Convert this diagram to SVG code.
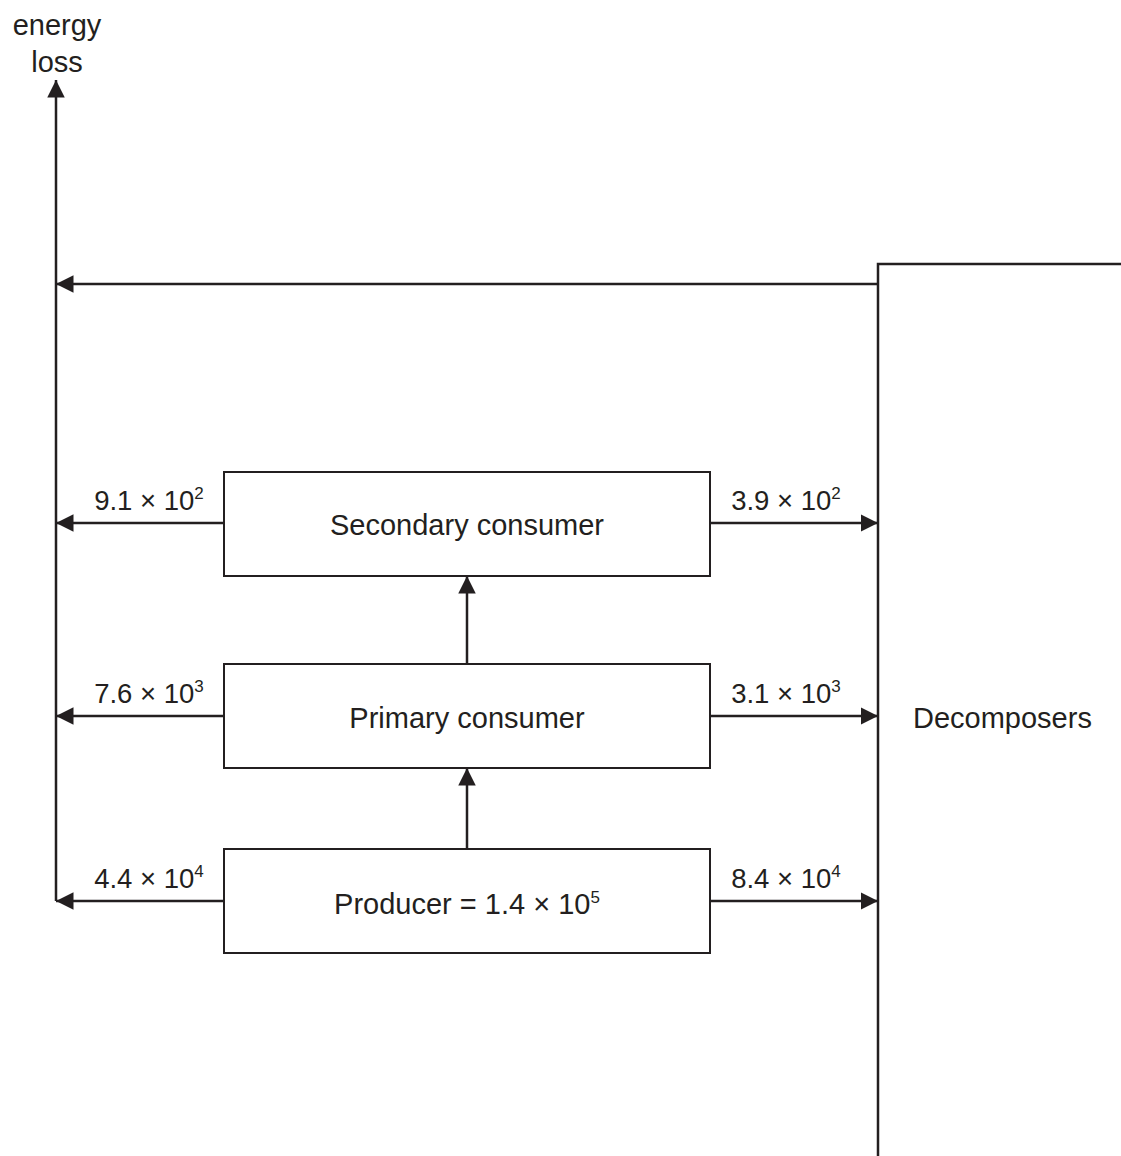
<svg xmlns="http://www.w3.org/2000/svg" width="1121" height="1156" viewBox="0 0 1121 1156">
<style>
.ln{stroke:#231f20;stroke-width:2.5;fill:none}
.bx{stroke:#231f20;stroke-width:2;fill:#fff}
.t{font-family:"Liberation Sans",Arial,sans-serif;font-size:29px;fill:#231f20}
.lb{font-size:27.5px}
.m{text-anchor:middle}
.sup{font-size:17px}
</style>
<defs>
<marker id="ah" viewBox="0 0 10 10" refX="10" refY="5" markerWidth="7" markerHeight="7" markerUnits="strokeWidth" orient="auto">
<path d="M0,0 L10,5 L0,10 z" fill="#231f20"/>
</marker>
</defs>
<g id="connectors">
<line class="ln" x1="56" y1="901" x2="56" y2="80" marker-end="url(#ah)"/>
<line class="ln" x1="878" y1="284" x2="56" y2="284" marker-end="url(#ah)"/>
<polyline class="ln" points="878,1156 878,264 1121,264"/>
<line class="ln" x1="224" y1="523" x2="56" y2="523" marker-end="url(#ah)"/>
<line class="ln" x1="224" y1="716" x2="56" y2="716" marker-end="url(#ah)"/>
<line class="ln" x1="224" y1="901" x2="56" y2="901" marker-end="url(#ah)"/>
<line class="ln" x1="710" y1="523" x2="878" y2="523" marker-end="url(#ah)"/>
<line class="ln" x1="710" y1="716" x2="878" y2="716" marker-end="url(#ah)"/>
<line class="ln" x1="710" y1="901" x2="878" y2="901" marker-end="url(#ah)"/>
<line class="ln" x1="467" y1="664" x2="467" y2="576" marker-end="url(#ah)"/>
<line class="ln" x1="467" y1="849" x2="467" y2="768" marker-end="url(#ah)"/>
<text class="t lb m" x="149" y="510">9.1 × 10<tspan class="sup" dy="-11">2</tspan></text>
<text class="t lb m" x="149" y="703">7.6 × 10<tspan class="sup" dy="-11">3</tspan></text>
<text class="t lb m" x="149" y="888">4.4 × 10<tspan class="sup" dy="-11">4</tspan></text>
<text class="t lb m" x="786" y="510">3.9 × 10<tspan class="sup" dy="-11">2</tspan></text>
<text class="t lb m" x="786" y="703">3.1 × 10<tspan class="sup" dy="-11">3</tspan></text>
<text class="t lb m" x="786" y="888">8.4 × 10<tspan class="sup" dy="-11">4</tspan></text>
</g>
<g id="energy-loss">
<text class="t m" x="57" y="35">energy</text>
<text class="t m" x="57" y="72">loss</text>
</g>
<g id="secondary">
<rect class="bx" x="224" y="472" width="486" height="104"/>
<text class="t m" x="467" y="535">Secondary consumer</text>
</g>
<g id="primary">
<rect class="bx" x="224" y="664" width="486" height="104"/>
<text class="t m" x="467" y="728">Primary consumer</text>
</g>
<g id="producer">
<rect class="bx" x="224" y="849" width="486" height="104"/>
<text class="t m" x="467" y="914">Producer = 1.4 × 10<tspan class="sup" dy="-11">5</tspan></text>
</g>
<g id="decomposers">
<text class="t" x="913" y="728">Decomposers</text>
</g>
</svg>
